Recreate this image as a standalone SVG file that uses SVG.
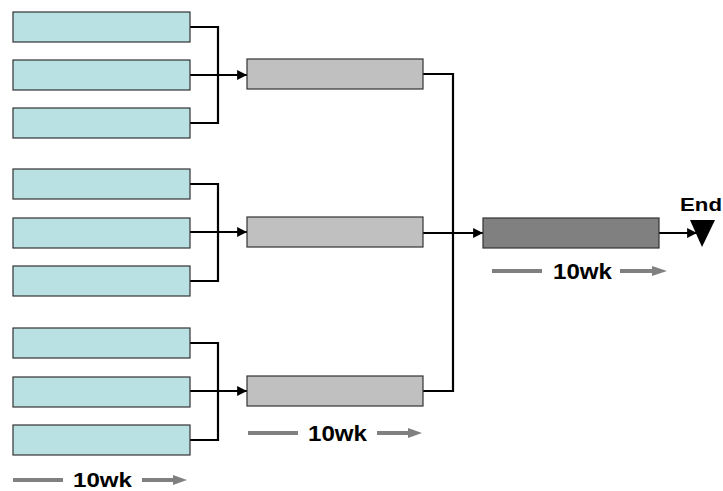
<svg xmlns="http://www.w3.org/2000/svg" width="723" height="491" viewBox="0 0 723 491">
<defs>
<style>
.task{fill:#B9E0E3;stroke:#333;stroke-width:1.2}
.sum{fill:#C0C0C0;stroke:#333;stroke-width:1.2}
.fin{fill:#808080;stroke:#333;stroke-width:1.2}
.con{fill:none;stroke:#000;stroke-width:2.2}
.dur{stroke:#808080;stroke-width:4;fill:none}
.gh{fill:#808080}
.lbl{font-family:"Liberation Sans",Arial,sans-serif;font-weight:bold;font-size:22px;fill:#000}
</style>
<marker id="ah" viewBox="0 0 10 10" refX="10" refY="5" markerWidth="4.5" markerHeight="4.5" orient="auto" markerUnits="strokeWidth">
<path d="M0,0 L10,5 L0,10 z" fill="#000"/>
</marker>
</defs>
<rect width="723" height="491" fill="#fff"/>
<g id="connectors">
<polyline class="con" points="190,27 218,27 218,123 190,123"/>
<line class="con" x1="190" y1="75" x2="247" y2="75" marker-end="url(#ah)"/>
<polyline class="con" points="190,184 218,184 218,281 190,281"/>
<line class="con" x1="190" y1="232" x2="247" y2="232" marker-end="url(#ah)"/>
<polyline class="con" points="190,343 218,343 218,440 190,440"/>
<line class="con" x1="190" y1="391" x2="247" y2="391" marker-end="url(#ah)"/>
<polyline class="con" points="423,74 453,74 453,391 423,391"/>
<line class="con" x1="423" y1="233" x2="483" y2="233" marker-end="url(#ah)"/>
<line class="con" x1="659" y1="233" x2="697" y2="233" marker-end="url(#ah)"/>
</g>
<g id="g1">
<rect id="t1" class="task" x="13" y="12" width="177" height="30"/>
<rect id="t2" class="task" x="13" y="60" width="177" height="30"/>
<rect id="t3" class="task" x="13" y="108" width="177" height="30"/>
</g>
<g id="g2">
<rect id="t4" class="task" x="13" y="169" width="177" height="30"/>
<rect id="t5" class="task" x="13" y="218" width="177" height="30"/>
<rect id="t6" class="task" x="13" y="266" width="177" height="30"/>
</g>
<g id="g3">
<rect id="t7" class="task" x="13" y="328" width="177" height="30"/>
<rect id="t8" class="task" x="13" y="377" width="177" height="30"/>
<rect id="t9" class="task" x="13" y="425" width="177" height="30"/>
</g>
<g id="s1"><rect class="sum" x="247" y="59" width="176" height="30"/></g>
<g id="s2"><rect class="sum" x="247" y="217" width="176" height="30"/></g>
<g id="s3"><rect class="sum" x="247" y="376" width="176" height="30"/></g>
<g id="final"><rect class="fin" x="483" y="218" width="176" height="30"/></g>
<g id="end">
<polygon points="690,220 715,220 702,247" fill="#000"/>
<text class="lbl" x="680" y="211" style="font-size:19px" textLength="42" lengthAdjust="spacingAndGlyphs">End</text>
</g>
<g id="dur1">
<line class="dur" x1="13" y1="480" x2="63" y2="480"/>
<line class="dur" x1="142" y1="480" x2="175" y2="480"/>
<polygon class="gh" points="173,475 187,480 173,485"/>
<text class="lbl" x="73" y="486.5" style="font-size:21px" textLength="59" lengthAdjust="spacingAndGlyphs">10wk</text>
</g>
<g id="dur2">
<line class="dur" x1="248" y1="433" x2="298" y2="433"/>
<line class="dur" x1="377" y1="433" x2="410" y2="433"/>
<polygon class="gh" points="408,428 422,433 408,438"/>
<text class="lbl" x="308" y="441" textLength="59" lengthAdjust="spacingAndGlyphs">10wk</text>
</g>
<g id="dur3">
<line class="dur" x1="492" y1="271" x2="542" y2="271"/>
<line class="dur" x1="620" y1="271" x2="655" y2="271"/>
<polygon class="gh" points="652,266 667,271 652,276"/>
<text class="lbl" x="553" y="279" textLength="59" lengthAdjust="spacingAndGlyphs">10wk</text>
</g>
</svg>
